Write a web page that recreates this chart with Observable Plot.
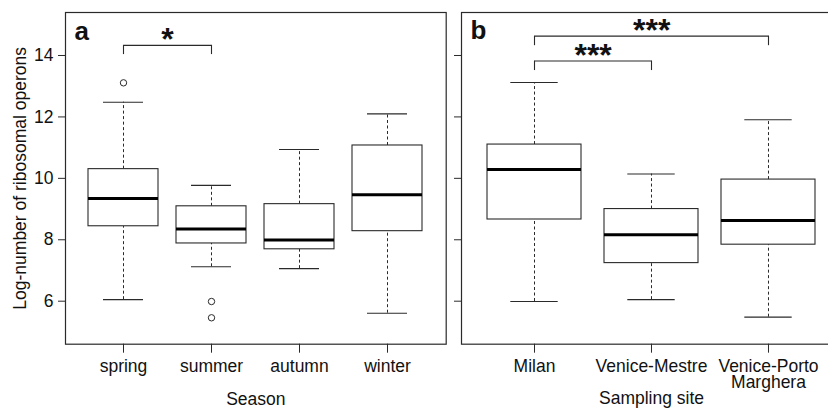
<!DOCTYPE html>
<html><head><meta charset="utf-8">
<script src="https://cdn.jsdelivr.net/npm/d3@7"></script>
<script src="https://cdn.jsdelivr.net/npm/@observablehq/plot@0.6"></script>
<style>
html,body{margin:0;padding:0;background:#fff;}
#wrap{position:relative;width:828px;height:408px;overflow:hidden;font-family:"Liberation Sans",Arial,Helvetica,sans-serif;}
#wrap svg{position:absolute;top:0;overflow:visible;}
</style></head><body><div id="wrap"></div>
<script>
// Panel a: by season
const seasons = ["spring", "summer", "autumn", "winter"];
const seasonLow  = [6.05, 7.12, 7.06, 5.61];
const seasonQ1   = [8.44, 7.88, 7.69, 8.28];
const seasonMed  = [9.34, 8.35, 7.99, 9.47];
const seasonQ3   = [10.30, 9.09, 9.16, 11.07];
const seasonHigh = [12.48, 9.77, 10.94, 12.10];
const seasonOutCat = ["spring", "summer", "summer"];
const seasonOutVal = [13.11, 5.99, 5.46];
const seasonBrackets = [{from: "spring", to: "summer", y: 14.33, leg: 14.03, label: "*"}];

// Panel b: by sampling site
const sites = ["Milan", "Venice-Mestre", "Venice-Porto Marghera"];
const siteLow  = [5.99, 6.05, 5.48];
const siteQ1   = [8.66, 7.24, 7.84];
const siteMed  = [10.29, 8.16, 8.63];
const siteQ3   = [11.10, 9.00, 9.96];
const siteHigh = [13.12, 10.14, 11.91];
const siteBrackets = [
  {from: "Milan", to: "Venice-Mestre", y: 13.82, leg: 13.51, label: "***"},
  {from: "Milan", to: "Venice-Porto Marghera", y: 14.63, leg: 14.32, label: "***"}
];

const yTicks = [6, 8, 10, 12, 14];
const yLabel = "Log-number of ribosomal operons";

const H = 408, MT = 12, MB = 64.3;
const yDomain = [4.6, 15.4];
const ink = "#2a2a2a";
const FS = 17.5;
const FONT = '"Liberation Sans", Arial, Helvetica, sans-serif';

function panel(o) {
  const rows = o.cats.map((c, i) => ({c, low: o.low[i], q1: o.q1[i], med: o.med[i], q3: o.q3[i], high: o.high[i]}));
  const outs = (o.outCat || []).map((c, i) => ({c, v: o.outVal[i]}));
  const xOpts = {type: "band", domain: o.cats, range: [o.marginLeft, o.width - o.marginRight],
                 paddingInner: 0.2, paddingOuter: o.paddingOuter, align: 0.5};
  const xs = Plot.scale({x: xOpts});
  const marks = [
    Plot.ruleX(rows, {x: "c", y1: "low", y2: "q1", stroke: ink, strokeWidth: 1, strokeDasharray: "3,2.5"}),
    Plot.ruleX(rows, {x: "c", y1: "q3", y2: "high", stroke: ink, strokeWidth: 1, strokeDasharray: "3,2.5"}),
    Plot.tickY(rows, {x: "c", y: "low", insetLeft: o.capInset, insetRight: o.capInset, stroke: ink, strokeWidth: 1.1}),
    Plot.tickY(rows, {x: "c", y: "high", insetLeft: o.capInset, insetRight: o.capInset, stroke: ink, strokeWidth: 1.1}),
    Plot.barY(rows, {x: "c", y1: "q1", y2: "q3", fill: "white", stroke: ink, strokeWidth: 1.1}),
    Plot.tickY(rows, {x: "c", y: "med", stroke: "#000", strokeWidth: 3}),
    Plot.dot(outs, {x: "c", y: "v", r: 3.2, stroke: ink, fill: "none", strokeWidth: 1}),
    Plot.link(o.brackets, {x1: "from", x2: "to", y1: "y", y2: "y", stroke: ink, strokeWidth: 1.1}),
    Plot.ruleX(o.brackets, {x: "from", y1: "leg", y2: "y", stroke: ink, strokeWidth: 1.1}),
    Plot.ruleX(o.brackets, {x: "to", y1: "leg", y2: "y", stroke: ink, strokeWidth: 1.1}),
    ...o.brackets.map(b => Plot.text([b], {x: "from", y: "y", text: "label",
        dx: (xs.apply(b.to) - xs.apply(b.from)) / 2, dy: 4.5, lineAnchor: "bottom",
        fontSize: 32, fontWeight: "bold", fill: "#111"})),
    Plot.text([o.letter], {frameAnchor: "top-left", text: d => d, dx: 9, dy: 27, lineAnchor: "bottom",
        textAnchor: "start", fontSize: 26, fontWeight: "bold", fill: "#111"}),
    Plot.text([o.xLabel], {frameAnchor: "bottom", text: d => d, dy: 60.3, lineAnchor: "bottom", fontSize: FS, fill: "#111"}),
    Plot.axisX({tickSize: 9, tickPadding: 8, fontSize: FS, label: null, stroke: ink, fill: "#111",
        lineHeight: 0.88, tickFormat: d => d.replace(" ", "\n")}),
    Plot.axisY({ticks: yTicks, tickSize: 7, tickPadding: 5, fontSize: FS, label: null, stroke: ink, fill: "#111",
        tickFormat: o.showYLabels ? d => String(d) : () => ""}),
    Plot.frame({stroke: ink, strokeWidth: 1.2})
  ];
  if (o.showYLabels) {
    marks.push(Plot.text([yLabel], {frameAnchor: "left", text: d => d, rotate: -90, dx: -39.5,
        textAnchor: "middle", lineAnchor: "bottom", fontSize: FS, fill: "#111"}));
  }
  const chart = Plot.plot({
    width: o.width, height: H,
    marginLeft: o.marginLeft, marginRight: o.marginRight, marginTop: MT, marginBottom: MB,
    x: {...xOpts, axis: null},
    y: {domain: yDomain, axis: null},
    style: {fontFamily: FONT, fontSize: FS + "px", background: "transparent", color: "#111", maxWidth: "none"},
    marks
  });
  chart.style.left = o.left + "px";
  chart.style.position = "absolute";
  return chart;
}

const wrap = document.getElementById("wrap");
wrap.appendChild(panel({
  cats: seasons, low: seasonLow, q1: seasonQ1, med: seasonMed, q3: seasonQ3, high: seasonHigh,
  outCat: seasonOutCat, outVal: seasonOutVal, brackets: seasonBrackets,
  xLabel: "Season", letter: "a", left: 0, width: 450, marginLeft: 65, marginRight: 4.3,
  paddingOuter: 0.26, capInset: 15, showYLabels: true
}));
wrap.appendChild(panel({
  cats: sites, low: siteLow, q1: siteQ1, med: siteMed, q3: siteQ3, high: siteHigh,
  brackets: siteBrackets,
  xLabel: "Sampling site", letter: "b", left: 450, width: 395.3, marginLeft: 11, marginRight: 4.3,
  paddingOuter: 0.22, capInset: 23.3, showYLabels: false
}));
</script>
</body></html>
